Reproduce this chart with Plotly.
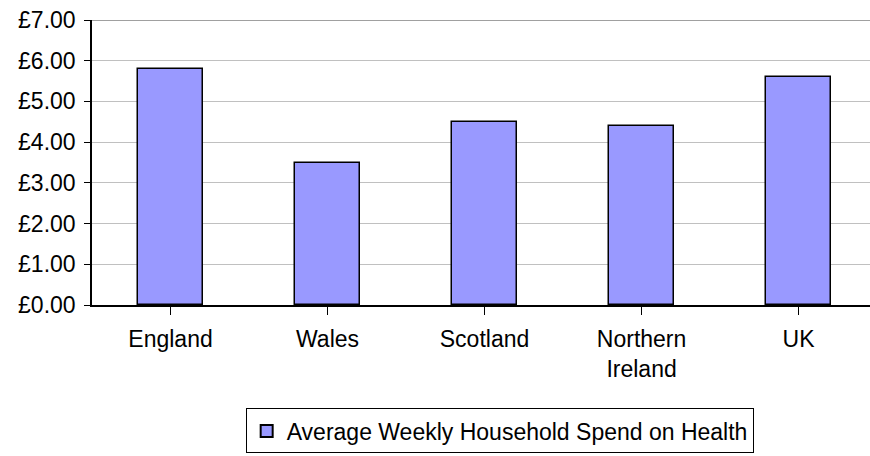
import plotly.graph_objects as go

# Average weekly household spend on health by nation
regions = ["England", "Wales", "Scotland", "Northern<br>Ireland", "UK"]
spend = [5.80, 3.50, 4.50, 4.40, 5.60]
series_name = "Average Weekly Household Spend on Health"
y_ticks = [0, 1, 2, 3, 4, 5, 6, 7]
y_tick_text = ["\u00a3%.2f" % v for v in y_ticks]

FONT = "Liberation Sans, Arial, sans-serif"
FONT_SIZE = 23

fig = go.Figure()
fig.add_trace(go.Bar(
    x=list(range(len(regions))),
    y=spend,
    name=series_name,
    width=0.41,
    marker=dict(color="#9999ff", line=dict(color="#000000", width=1.5)),
    showlegend=True,
))

# darker line along the top of the plot area
fig.add_shape(type="line", xref="paper", yref="y", x0=0, x1=1, y0=7, y1=7,
              line=dict(color="#808080", width=1.5))

fig.update_layout(
    width=870, height=456,
    margin=dict(l=92, r=0, t=20, b=151),
    paper_bgcolor="white", plot_bgcolor="white",
    font=dict(family=FONT, size=FONT_SIZE, color="#000000"),
    bargap=0,
    showlegend=True,
    legend=dict(
        x=0.524, y=-0.442, xanchor="center", yanchor="middle",
        bordercolor="#000000", borderwidth=1,
        font=dict(family=FONT, size=FONT_SIZE, color="#000000"),
        itemsizing="constant",
    ),
)

fig.update_xaxes(
    range=[-0.5, 4.455],
    tickmode="array",
    tickvals=list(range(len(regions))),
    ticktext=regions,
    tickson="boundaries",
    ticks="outside", ticklen=8, tickcolor="#000000", tickwidth=1,
    showline=True, linecolor="#000000", linewidth=1.5,
    showgrid=False, zeroline=False,
    ticklabelstandoff=5,
)

fig.update_yaxes(
    range=[0, 7],
    tickmode="array",
    tickvals=y_ticks,
    ticktext=y_tick_text,
    ticks="outside", ticklen=6, tickcolor="#000000", tickwidth=1,
    showline=True, linecolor="#000000", linewidth=1.5,
    showgrid=True, gridcolor="#c0c0c0", gridwidth=1,
    zeroline=False,
    ticklabelstandoff=4,
)

fig.write_html("out.html")
